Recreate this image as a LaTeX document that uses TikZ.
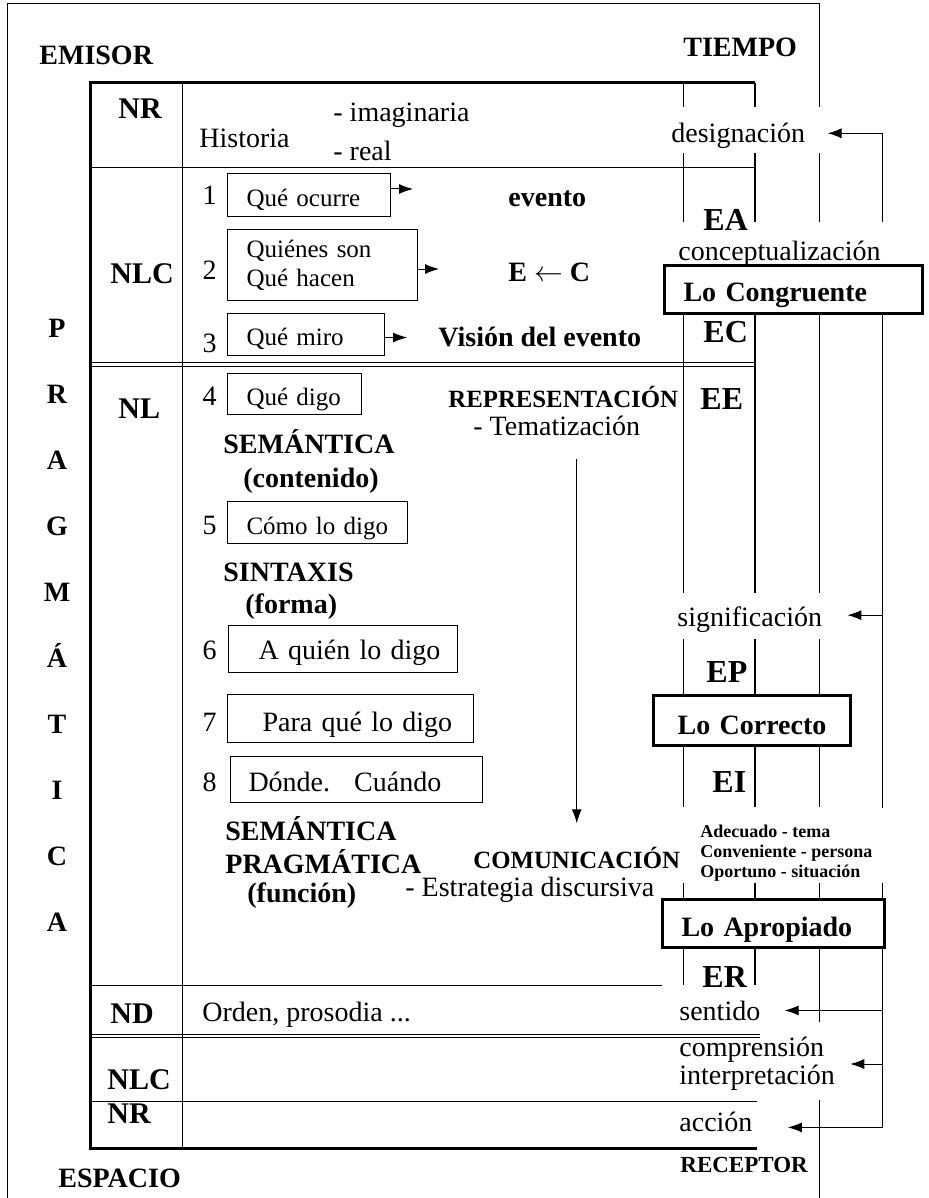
\documentclass[tikz,border=0pt]{standalone}
\usepackage{fontspec}
\setmainfont{Liberation Serif}
\usetikzlibrary{arrows.meta,backgrounds}

\tikzset{
  gline/.style={line width=0.5pt},
  txt/.style={font=\fontsize{14}{14}\selectfont, inner sep=0pt, anchor=base west},
  btxt/.style={font=\fontsize{14}{14}\selectfont\bfseries, inner sep=0pt, anchor=base west},
  lvl/.style={font=\fontsize{15}{15}\selectfont\bfseries, inner sep=0pt, anchor=base west},
  etq/.style={font=\fontsize{16}{16}\selectfont\bfseries, inner sep=0pt, anchor=base west},
  qbox/.style={draw, line width=0.5pt, anchor=north west, align=left, inner sep=0pt,
    font=\fontsize{12.5}{14.5}\selectfont},
  bigbox/.style={draw, line width=1.5pt, fill=white, anchor=north west, align=left, inner sep=0pt,
    font=\fontsize{14}{14}\selectfont\bfseries},
  arr/.style={-{Latex[length=7pt,width=5pt]}, line width=0.5pt}
}
\newcommand{\ind}[1]{\hspace*{#1}}

\begin{document}
\begin{tikzpicture}[x=0.5pt,y=-0.5pt]
  \useasboundingbox (0,0) rectangle (928,1198);

  % left side
  \node[btxt] (emisor) at (39,65) {EMISOR};
  \node[btxt] (espacio) at (58,1187) {ESPACIO};
  \foreach \l [count=\i from 0] in {P,R,A,G,M,Á,T,I,C,A}
    \node[btxt, anchor=base] (prag\i) at (57,337+66.1*\i) {\l};

  \node[lvl] (nr1) at (118,119) {NR};
  \node[lvl] (nlc1) at (110,283) {NLC};
  \node[lvl] (nl) at (118,418) {NL};
  \node[lvl] (nd) at (110,1023) {ND};
  \node[lvl] (nlc2) at (107,1089) {NLC};
  \node[lvl] (nr2) at (107,1123) {NR};

  % NR row
  \node[txt] (historia) at (199,148) {Historia};
  \node[txt] (imag) at (333,122) {- imaginaria};
  \node[txt] (real) at (333,161) {- real};

  % numbered questions
  \node[txt, anchor=base] (n1) at (209.5,205) {1};
  \node[txt, anchor=base] (n2) at (209.5,279) {2};
  \node[txt, anchor=base] (n3) at (209.5,352) {3};
  \node[txt, anchor=base] (n4) at (209.5,405) {4};
  \node[txt, anchor=base] (n5) at (209.5,534) {5};
  \node[txt, anchor=base] (n6) at (209.5,659) {6};
  \node[txt, anchor=base] (n7) at (209.5,731) {7};
  \node[txt, anchor=base] (n8) at (209.5,791) {8};

  \node[qbox, text height=16.5pt, text depth=5pt, text width=81.5pt]
    (q1) at (227,173) {\ind{9.5pt}Qué ocurre};
  \node[qbox, minimum height=35.5pt, text width=95pt]
    (q2) at (227,229) {\ind{9.5pt}Quiénes son\\\ind{9.5pt}Qué hacen};
  \node[qbox, text height=16pt, text depth=5pt, text width=78.5pt]
    (q3) at (227,313) {\ind{9.5pt}Qué miro};
  \node[qbox, text height=16pt, text depth=4.5pt, text width=67pt]
    (q4) at (227,373) {\ind{9.5pt}Qué digo};
  \node[qbox, text height=16.5pt, text depth=4.5pt, text width=90pt]
    (q5) at (227,501) {\ind{9.5pt}Cómo lo digo};
  \node[qbox, font=\fontsize{14}{14}\selectfont, text height=17pt, text depth=6.5pt,
    text width=114.5pt] (q6) at (228,625) {\ind{15pt}A quién lo digo};
  \node[qbox, font=\fontsize{14}{14}\selectfont, text height=18.5pt, text depth=5.5pt,
    text width=123pt] (q7) at (227,694) {\ind{17.5pt}Para qué lo digo};
  \node[qbox, font=\fontsize{14}{14}\selectfont, text height=17.5pt, text depth=5.5pt,
    text width=126pt] (q8) at (230,756) {\ind{9pt}Dónde.\hspace{12pt}Cuándo};

  \node[btxt] (evento) at (508,206) {evento};
  \node[btxt] (ec) at (508,281) {E $\leftarrow$ C};
  \node[btxt] (vision) at (438,346) {Visión del evento};

  \draw[arr] ([yshift=3pt]q1.east) -- ++(22,0);
  \draw[arr] ([yshift=-2pt]q2.east) -- ++(21,0);
  \draw[arr] ([yshift=-1.5pt]q3.east) -- ++(22,0);

  \node[btxt] (sem1) at (223,453) {SEMÁNTICA};
  \node[btxt, anchor=base] (cont) at (311,487) {(contenido)};
  \node[btxt] (sint) at (223,581) {SINTAXIS};
  \node[btxt] (forma) at (245,613) {(forma)};
  \node[btxt] (sem2) at (225,840) {SEMÁNTICA};
  \node[btxt] (pragm) at (225,873) {PRAGMÁTICA};
  \node[btxt] (funcion) at (247,902) {(función)};

  \node[btxt, font=\fontsize{12.4}{12.4}\selectfont\bfseries] (repr) at (448,407) {REPRESENTACIÓN};
  \node[txt] (tema) at (473,435) {- Tematización};
  \node[btxt, font=\fontsize{12.4}{12.4}\selectfont\bfseries] (comu) at (473,868) {COMUNICACIÓN};
  \node[txt] (estr) at (405,896) {- Estrategia discursiva};
  \draw[arr] ([yshift=-11.5pt]tema.south -| comu) -- ([yshift=11.5pt]comu.north);

  \node[txt] (orden) at (202,1021) {Orden, prosodia ...};

  % right side
  \node[btxt] (tiempo) at (683,57) {TIEMPO};
  \node[btxt, font=\fontsize{11.5}{11.5}\selectfont\bfseries] (receptor) at (680,1172) {RECEPTOR};

  \node[txt] (desig) at (671,143) {designación};
  \node[etq] (ea) at (703,230) {EA};
  \node[bigbox, text height=18pt, text depth=6pt, text width=129pt]
    (congr) at (663,264) {\ind{9.5pt}Lo Congruente};
  \node[txt] (concep) at (678,260) {conceptualización};
  \node[etq] (ecl) at (703,342) {EC};
  \node[etq] (ee) at (700,409) {EE};
  \node[txt] (signif) at (677,626) {significación};
  \node[etq] (ep) at (706,682) {EP};
  \node[bigbox, text height=19.5pt, text depth=5.5pt, text width=98.5pt, align=center]
    (corr) at (652,694) {Lo Correcto};
  \node[etq] (ei) at (712,792) {EI};
  \node[font=\fontsize{9}{10}\selectfont\bfseries, inner sep=0pt, anchor=west, align=left]
    (adec) at (700,853) {Adecuado - tema\\Conveniente - persona\\Oportuno - situación};
  \node[bigbox, text height=18.5pt, text depth=5.5pt, text width=111pt]
    (aprop) at (661,898) {\ind{9.5pt}Lo Apropiado};
  \node[etq] (er) at (702,987) {ER};
  \node[txt] (sent) at (679,1020) {sentido};
  \node[txt, anchor=west, align=left] (compr) at (679,1064) {comprensión\\interpretación};
  \node[txt] (accion) at (679,1131) {acción};

  \coordinate (fbtop) at (882,222);
  \coordinate (fbbot) at (882,946);
  \draw[arr, shorten >=11pt] (fbtop) |- ([yshift=1.5pt]desig.east);
  \draw[arr, shorten >=12.5pt] ([yshift=2pt]signif.east -| fbtop) -- ([yshift=2pt]signif.east);
  \draw[arr, shorten >=12pt] (sent.east -| fbtop) -- (sent.east);
  \draw[arr, shorten >=7.5pt] (compr.east -| fbtop) -- (compr.east);
  \draw[arr, shorten >=17.5pt] (fbbot) |- ([yshift=-3pt]accion.east);

  \begin{scope}[on background layer]
    \draw[gline] (7,1198) -- (7,4) -- (819,4) -- (819,107);
    \draw[line width=1.5pt] (755,83) -- (90,83) -- (90,1148) -- (757,1148);
    \draw[gline] (182,83) -- (182,1148);
    \draw[gline] (90,168) -- (755,168);
    \draw[gline] (90,362) -- (755,362) (90,366) -- (755,366);
    \draw[gline] (90,985) -- (662,985);
    \draw[gline] (90,1034) -- (760,1034) (90,1037) -- (760,1037);
    \draw[gline] (90,1101) -- (757,1101);
    \draw[gline] (683,83) -- (683,107);
    \draw[line width=1pt] (755,83) -- (755,107);
    \foreach \x/\w in {683/0.5pt,755/1pt,819/0.5pt}
      \foreach \a/\b in {153/222,311/593,639/807,883/898,946/985}
        \draw[line width=\w] (\x,\a) -- (\x,\b);
    \draw[gline] (819,985) -- (819,1022) (819,1100) -- (819,1198);
    \draw[gline] (882,311) -- (882,808) (882,883) -- (882,898);
  \end{scope}
\end{tikzpicture}
\end{document}
